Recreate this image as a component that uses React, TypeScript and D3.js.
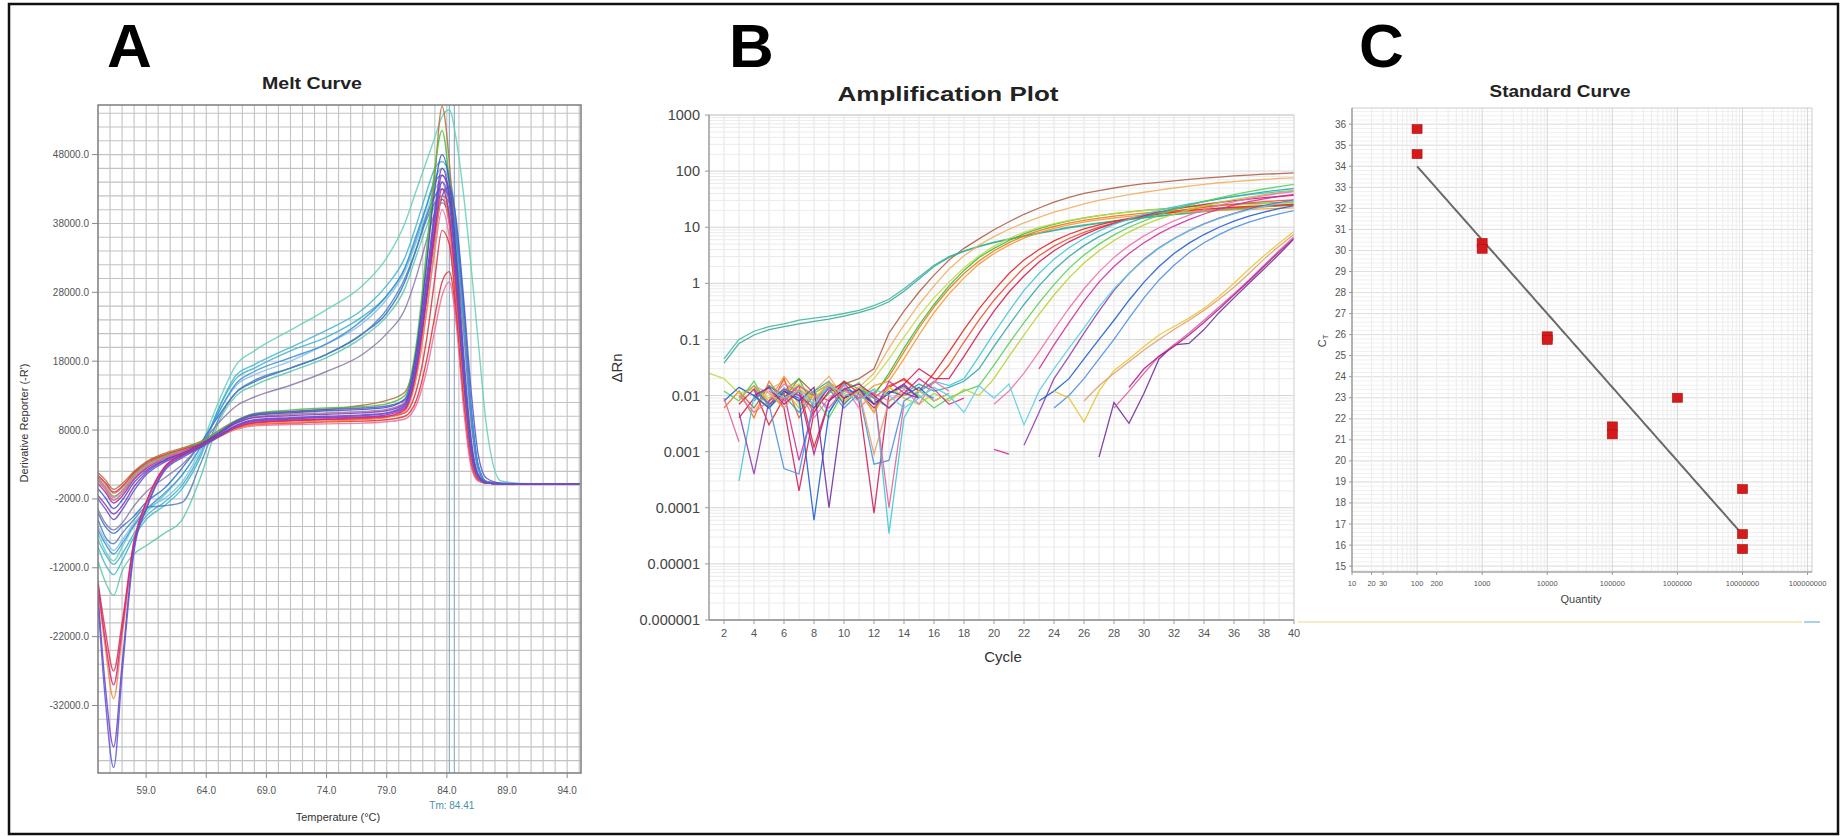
import React from 'react';
import * as d3 from 'd3';

const FONT = '"Liberation Sans", Arial, Helvetica, sans-serif';
const W = 1844;
const H = 836;

// ---------- A: melt curve (derivative reporter, in thousands) ----------
const meltTemps = [55, 55.6, 56.3, 57, 58, 59, 60.5, 62, 63.5, 65, 66.5, 68, 71, 74, 77, 79, 80.5, 81.5, 82.3, 83, 83.6, 84.2, 84.8, 85.4, 86, 86.6, 87.3, 88.5, 91, 95];
const meltTicksY = [48, 38, 28, 18, 8, -2, -12, -22, -32];
const meltTicksX = [59, 64, 69, 74, 79, 84, 89, 94];
const meltTm = 84.41;

// wells that dip slightly and sit on the low plateau
const meltPlateau: number[][] = [
  [1.8, 0.8, -0.6, 0.2, 2.0, 3.4, 4.6, 5.4, 6.3, 7.9, 9.4, 10.2, 10.6, 11.0, 11.6, 12.3, 13.5, 20, 32, 45, 55, 47, 32, 17, 5.5, 1.3, 0.3, 0.2, 0.2, 0.2],
  [1.2, 0.2, -1.2, -0.4, 1.6, 3.0, 4.2, 5.0, 5.9, 7.2, 8.6, 9.2, 9.5, 9.6, 9.7, 9.9, 10.8, 16, 25, 34, 40, 36, 26, 14, 4.5, 1.1, 0.3, 0.2, 0.2, 0.2],
  [0.6, -0.6, -2.2, -1.2, 1.0, 2.6, 4.0, 4.9, 6.0, 7.6, 9.0, 9.9, 10.3, 10.5, 10.7, 11.0, 12.0, 18, 28, 38, 44, 39, 28, 15, 5, 1.2, 0.3, 0.2, 0.2, 0.2],
  [0.2, -1.0, -2.6, -1.6, 0.8, 2.4, 3.8, 4.8, 5.8, 7.2, 8.6, 9.3, 9.6, 9.8, 9.9, 10.2, 11.2, 17, 27, 37, 41.5, 38, 27, 14, 4.6, 1.1, 0.3, 0.2, 0.2, 0.2],
  [1.0, -0.2, -1.6, -0.8, 1.4, 2.9, 4.2, 5.2, 6.2, 7.8, 9.4, 10.4, 10.9, 11.2, 11.4, 11.8, 13.0, 21, 34, 46, 51.5, 44, 30, 15, 5, 1.2, 0.3, 0.2, 0.2, 0.2],
  [-0.5, -1.8, -3.4, -2.2, 0.4, 2.1, 3.6, 4.7, 5.9, 7.5, 9.2, 10.1, 10.5, 10.8, 11.0, 11.3, 12.5, 20, 32, 43, 48, 44, 33, 19, 7, 1.6, 0.4, 0.2, 0.2, 0.2],
  [1.4, 0.4, -1.0, -0.2, 1.8, 3.2, 4.4, 5.2, 6.0, 7.2, 8.3, 8.8, 9.0, 9.2, 9.3, 9.5, 10.0, 12.5, 18, 24.5, 29.5, 31, 24, 12, 3.2, 0.7, 0.3, 0.2, 0.2, 0.2],
  [0.9, -0.3, -1.8, -0.9, 1.2, 2.7, 3.9, 4.8, 5.7, 7.0, 8.1, 8.6, 8.8, 8.9, 9.0, 9.2, 9.6, 11.8, 16.5, 22.5, 27.5, 29.5, 23, 11, 2.8, 0.6, 0.3, 0.2, 0.2, 0.2],
  [-1.5, -2.8, -4.2, -3.0, -0.2, 1.8, 3.5, 4.6, 5.8, 7.4, 9.0, 9.8, 10.1, 10.3, 10.5, 10.8, 11.8, 18.5, 29, 39, 45, 42, 31, 17, 6, 1.4, 0.3, 0.2, 0.2, 0.2],
  [-2.0, -3.4, -5.0, -3.6, -0.8, 1.5, 3.3, 4.5, 5.9, 7.6, 9.3, 10.3, 10.7, 11.0, 11.2, 11.5, 12.3, 18, 27, 36, 42, 43.3, 38, 27, 14, 4.5, 1, 0.3, 0.2, 0.2],
];
const meltPlateauColors = ['#b0703a', '#e874b0', '#a07888', '#c0209a', '#44c23a', '#3456c8', '#de3030', '#ee6aa0', '#8a30b8', '#5a4fd0'];

// wells with a deep low-temperature trough
const meltDeep: number[][] = [
  [-14, -21, -27, -20, -8, -2.5, 2.6, 4.4, 5.6, 7.0, 8.4, 9.0, 9.3, 9.5, 9.6, 9.9, 10.5, 14, 21, 30, 37, 35, 25, 13, 4, 0.9, 0.3, 0.2, 0.2, 0.2],
  [-15, -23.5, -31, -22, -8.5, -2.8, 2.4, 4.3, 5.5, 6.9, 8.2, 8.8, 9.1, 9.3, 9.5, 9.8, 10.8, 16, 25, 35, 42, 38, 27, 14, 4.5, 1.0, 0.3, 0.2, 0.2, 0.2],
  [-14.5, -22.5, -29, -21, -8.2, -2.6, 2.5, 4.4, 5.6, 7.0, 8.4, 9.1, 9.4, 9.6, 9.8, 10.0, 11.0, 17, 27, 37, 43, 39, 28, 15, 4.8, 1.1, 0.3, 0.2, 0.2, 0.2],
  [-16, -29, -38, -26, -9, -3.4, 2.2, 4.2, 5.5, 7.1, 8.7, 9.5, 9.8, 10.0, 10.2, 10.5, 11.6, 19, 30, 40, 46, 42, 30, 16, 5.5, 1.3, 0.3, 0.2, 0.2, 0.2],
  [-17, -31, -41, -27.5, -9.5, -3.6, 2.0, 4.0, 5.4, 7.0, 8.6, 9.4, 9.7, 9.9, 10.1, 10.4, 11.4, 18, 29, 39, 44, 41, 30, 16, 5.2, 1.2, 0.3, 0.2, 0.2, 0.2],
];
const meltDeepColors = ['#e03040', '#f08a30', '#cc2090', '#7a3cc0', '#5858d8'];

// wells with the raised shoulder before the main peak
const meltUpper: number[][] = [
  [-7, -9.5, -11, -9, -6, -4, -1.5, 1.5, 5.5, 12, 17.5, 19.5, 22.5, 25.5, 29, 33, 38, 43, 47, 50.5, 53.5, 54.5, 50, 42, 32, 21, 8.5, 0.6, 0.2, 0.2],
  [-9, -11.5, -13, -11, -7.5, -5, -3, -0.5, 4, 11, 16, 17.5, 20, 22.5, 25.5, 29, 33, 38, 42.5, 46, 47, 45, 38, 26, 12, 3, 0.5, 0.2, 0.2, 0.2],
  [-8, -10, -11.5, -10, -7, -4.5, -2.5, 0, 4.5, 11, 15.5, 17, 19.5, 21.5, 24.5, 27.5, 31.5, 36, 40.5, 44.5, 46, 44, 37, 25, 11, 2.8, 0.5, 0.2, 0.2, 0.2],
  [-6, -8, -9.5, -8, -5.5, -3.5, -2, 0.5, 5, 10.5, 14.5, 16, 18, 20.5, 23.5, 27, 31, 35.5, 39.5, 43, 44, 42, 35, 24, 10.5, 2.6, 0.5, 0.2, 0.2, 0.2],
  [-4, -6, -7, -6, -4.5, -2.5, -0.5, 2.5, 6, 10, 13.5, 15, 17, 19, 22, 25, 29.5, 34.5, 39, 42, 43, 42, 36, 25, 11, 2.8, 0.5, 0.2, 0.2, 0.2],
  [-5, -7.5, -8.5, -7, -5, -3.2, -3.0, -2.5, 3, 9.5, 13.5, 15.2, 17, 19, 22, 25.5, 30, 34.5, 38.5, 41, 42, 41, 35, 24, 10.5, 2.6, 0.5, 0.2, 0.2, 0.2],
  [-11, -14, -16, -12.5, -10, -8.8, -7, -5, 1, 9, 13, 14.5, 16.5, 18.5, 21.5, 24.5, 28.5, 33.5, 37.5, 40.5, 41.5, 40, 34, 23, 10, 2.4, 0.5, 0.2, 0.2, 0.2],
  [-3.5, -5.5, -6.5, -5.5, -3, -1, 1, 3, 5.8, 9, 11.5, 12.8, 14.5, 16.5, 19, 22, 25.5, 30.5, 35.5, 39.5, 41, 39, 33, 22, 9.5, 2.3, 0.5, 0.2, 0.2, 0.2],
  [-6.5, -8.5, -10, -8.5, -5.8, -3.6, -1.2, 1.5, 5.5, 10.5, 14.8, 16.5, 18.5, 20.5, 24, 27.5, 31.5, 36.5, 40.5, 44, 45, 43, 36, 25, 11, 2.7, 0.5, 0.2, 0.2, 0.2],
];
const meltUpperColors = ['#62d0b8', '#3fb6d0', '#40b0c8', '#7ec0e8', '#2f6fd0', '#4a80b8', '#58c8a8', '#8a78a8', '#3a90d8'];

// ---------- B: amplification plot (delta Rn per cycle) ----------
const ampTicksY = [1000, 100, 10, 1, 0.1, 0.01, 0.001, 0.0001, 0.00001, 0.000001];
const ampTicksX = d3.range(2, 41, 2);
const ampStart = [3, 2, 2, 2, 3, 4, 1, 3, 3, 4, 3, 3, 4, 2, 5, 3, 4, 3, 2, 4, 5, 3, 6, 2, 4, 5];
const ampColors = ['#b0604a', '#40b8a0', '#3aa898', '#f07818', '#38c038', '#f59a30', '#c8d848', '#f0b060', '#e02828', '#f05030', '#d0205a', '#40c8d8', '#30a8a8', '#58d058', '#b8d030', '#f070b0', '#d030a0', '#9040b0', '#2060d0', '#5090e0', '#e8c838', '#e0a070', '#7030a0', '#e060a0', '#b02090', '#60d0e0'];
const N = null;
const ampValues: (number | null)[][] = [
  [.012, .006, .015, .009, .02, .011, .008, .016, .02, .03, .13, .32, .7, 1.4, 2.6, 4.2, 6.2, 9, 12.5, 17, 22, 28, 34, 40, 45, 50, 55, 60, 63, 67, 71, 75, 78, 82, 85, 88, 90, 93],
  [.045, .1, .14, .17, .19, .22, .24, .26, .29, .33, .4, .52, .8, 1.3, 2.1, 3, 3.8, 4.6, 5.4, 6.2, 7, 7.9, 8.9, 10, 11, 12, 13, 14, 15, 16, 17, 18, 19.5, 20.5, 21.5, 22.5, 23.5, 24.5, 25.5],
  [.038, .085, .12, .15, .17, .19, .21, .23, .26, .3, .36, .47, .72, 1.2, 2, 2.9, 3.7, 4.5, 5.3, 6.1, 6.9, 7.8, 8.7, 9.7, 10.7, 11.7, 12.7, 13.7, 14.7, 15.7, 16.7, 17.7, 19, 20, 21, 22, 23, 24, 25],
  [.006, .012, .004, .018, .008, .013, .005, .016, .009, .014, .011, .022, .06, .16, .38, .8, 1.5, 2.5, 3.8, 5.3, 7, 8.7, 10.3, 11.8, 13.2, 14.5, 15.7, 16.8, 17.8, 18.7, 19.5, 20.3, 21, 21.7, 22.3, 22.9, 23.5, 24, 24.5],
  [.009, .015, .007, .012, .02, .006, .011, .018, .013, .01, .025, .07, .18, .42, .9, 1.7, 2.9, 4.2, 5.8, 7.6, 9.4, 11.2, 13, 14.6, 16.1, 17.5, 18.8, 20, 21.1, 22.1, 23, 23.9, 24.7, 25.5, 26.2, 26.9, 27.5, 28.1],
  [.014, .008, .022, .01, .007, .017, .012, .009, .015, .018, .045, .12, .3, .65, 1.25, 2.2, 3.4, 4.8, 6.4, 8, 9.5, 11, 12.3, 13.5, 14.6, 15.6, 16.5, 17.3, 18, 18.7, 19.3, 19.9, 20.4, 20.9, 21.3, 21.7, 22.1],
  [.025, .02, .011, .013, .009, .012, .016, .01, .013, .008, .012, .02, .045, .11, .26, .55, 1.05, 1.9, 3.1, 4.6, 6.3, 8.1, 9.9, 11.6, 13.2, 14.7, 16.1, 17.4, 18.6, 19.7, 20.7, 21.6, 22.5, 23.3, 24, 24.7, 25.3, 25.9, 26.4, 26.9],
  [.01, .005, .013, .018, .007, .012, .022, .009, .014, .025, .07, .18, .42, .9, 1.8, 3.1, 4.8, 6.8, 9.2, 12, 15, 18.5, 22, 26, 30, 34, 38, 42, 46, 50, 54, 58, 62, 65, 68, 71, 74, 76],
  [.007, .013, .003, .009, .015, .0012, .008, .018, .011, .006, .014, .02, .012, .025, .06, .15, .35, .75, 1.5, 2.6, 4, 5.7, 7.5, 9.3, 11, 12.7, 14.3, 15.8, 17.2, 18.5, 19.7, 20.8, 21.8, 22.7, 23.5, 24.2, 24.8, 25.4],
  [.01, .006, .02, .004, .011, .016, .007, .013, .009, .015, .019, .012, .017, .035, .09, .22, .5, 1, 1.9, 3.1, 4.6, 6.3, 8.1, 10, 11.9, 13.8, 15.7, 17.5, 19.3, 21, 22.7, 24.3, 25.8, 27.2, 28.5, 29.7, 30.8],
  [.004, .009, .014, .006, .0002, .005, .012, .017, .008, .00008, .011, .016, .03, .02, .02, .05, .13, .32, .7, 1.35, 2.4, 3.8, 5.5, 7.4, 9.5, 11.7, 14, 16.3, 18.6, 20.9, 23.2, 25.4, 27.6, 29.7, 31.7, 33.6, 35.4, 37],
  [.0003, .01, .006, .014, .008, .012, .005, .016, .009, .013, .000035, .004, .012, .018, .015, .02, .05, .13, .32, .75, 1.5, 2.7, 4.3, 6.3, 8.6, 11.2, 14, 17, 20, 23, 26, 29, 32, 35, 38, 40.5, 43, 45],
  [.008, .015, .01, .005, .012, .018, .007, .013, .009, .006, .011, .016, .012, .014, .018, .03, .075, .18, .42, .9, 1.75, 3, 4.7, 6.8, 9.2, 12, 15, 18.2, 21.5, 25, 28.5, 32, 35.5, 39, 42.5, 46, 49],
  [.012, .008, .018, .006, .011, .015, .009, .004, .012, .017, .007, .011, .014, .01, .006, .009, .012, .015, .035, .085, .2, .45, .95, 1.85, 3.2, 5, 7.3, 10, 13, 16.5, 20.5, 24.5, 29, 33.5, 38, 43, 48, 53, 58],
  [.009, .013, .006, .011, .016, .008, .012, .005, .014, .009, .007, .011, .008, .013, .01, .02, .05, .12, .28, .62, 1.25, 2.3, 3.8, 5.8, 8.2, 11, 14, 17.2, 20.5, 24, 27.5, 31, 34.5, 38, 41.5, 45],
  [.01, .005, .008, .016, .012, .004, .009, .015, .006, .011, .008, .013, .007, .018, .012, N, N, .007, .012, .025, .06, .15, .36, .8, 1.6, 2.9, 4.7, 7, 9.8, 13, 16.5, 20.5, 24.5, 28.5, 32.5, 36.5, 40, 43],
  [.013, .007, .011, .0007, .006, .014, .009, .012, .005, .018, .011, .02, .013, .007, .009, N, .0011, .0009, N, .03, .08, .2, .48, 1.05, 2, 3.4, 5.3, 7.7, 10.5, 13.7, 17.2, 21, 24.8, 28.5, 32, 35.3, 38.5],
  [.005, .0004, .008, .013, .01, .006, .015, .009, .012, .007, .011, .016, .009, N, N, N, N, N, N, .0013, .005, .02, .05, .13, .32, .75, 1.5, 2.7, 4.3, 6.3, 8.7, 11.5, 14.5, 17.7, 21, 24.3, 27.5, 30.5],
  [.008, .014, .01, .006, .012, .009, .00006, .005, .013, .011, .007, .012, .01, .014, .008, .011, N, N, N, N, N, .008, .012, .02, .045, .1, .22, .5, 1.05, 2, 3.4, 5.2, 7.4, 10, 12.8, 15.7, 18.6, 21.5, 24.3],
  [.012, .007, .0005, .0004, .009, .013, .006, .011, .0006, .0007, .008, .012, .009, N, N, N, N, N, N, N, .006, .01, .02, .045, .1, .24, .55, 1.15, 2.1, 3.5, 5.3, 7.4, 9.8, 12.3, 14.8, 17.3, 19.7],
  [.011, .007, .013, .009, .016, .008, .012, .005, .014, .01, .012, .008, .011, N, N, N, N, N, N, .012, .009, .0034, .012, .028, .045, .075, .12, .17, .24, .36, .58, 1, 1.8, 3.1, 5.2, 8.4],
  [.009, .015, .011, .006, .013, .008, .017, .01, .012, .0009, .008, .011, N, N, N, N, N, N, N, N, N, N, N, .008, .015, .025, .04, .065, .1, .15, .22, .33, .52, .85, 1.5, 2.7, 4.6, 7.5],
  [.012, .008, .014, .0001, .009, .013, .007, .011, .015, .009, N, N, N, N, N, N, N, N, N, N, N, .0008, .0075, .0032, .011, .045, .08, .085, .15, .3, .55, 1, 1.8, 3.3, 6.2],
  [.009, .0015, N, .012, .008, .015, .01, .006, .013, .009, .011, .0001, .007, N, N, N, N, N, N, N, N, N, N, N, N, N, .006, .012, .025, .05, .08, .13, .22, .38, .65, 1.15, 2.1, 3.8, 6.8],
  [.01, .014, .007, .012, .0009, .008, .013, .016, .01, .006, .011, .009, N, N, N, N, N, N, N, N, N, N, N, N, N, .014, .03, .05, .075, .12, .2, .35, .62, 1.1, 2, 3.6, 6.3],
  [.013, .009, .012, .007, .015, .011, .008, .013, .01, .006, .009, .014, .01, .005, .015, .009, .016, .003, .012, .03, .07, .16, .38, .8, 1.5, 2.6, 4.2, 6.2, 8.6, 11.3, 14.2, 17.3, 20.4, 23.5, 26.5, 29.5],
];

// ---------- C: standard curve ----------
const stdQuantity = [100, 100, 1000, 1000, 10000, 10000, 100000, 100000, 1000000, 10000000, 10000000, 10000000];
const stdCt = [35.77, 34.58, 30.36, 30.08, 25.92, 25.75, 21.64, 21.26, 23.0, 18.66, 16.52, 15.81];
const stdSlope = -3.5;
const stdIntercept = 41.0;
const stdFitRange = [100, 1.25e7];
const stdTicksY = d3.range(15, 37);
const stdTicksX = [10, 20, 30, 100, 200, 1000, 10000, 100000, 1000000, 10000000, 100000000];

// ---------- layout ----------
const PA = { left: 98, right: 581, top: 105, bottom: 773 };
const PB = { left: 709, right: 1294, top: 115, bottom: 620 };
const PC = { left: 1352, right: 1812, top: 108, bottom: 572 };

const xA = d3.scaleLinear().domain([55, 95.15]).range([PA.left, PA.right]);
const yA = d3.scaleLinear().domain([-41.8, 55.2]).range([PA.bottom, PA.top]);
const xB = d3.scaleLinear().domain([1, 40]).range([PB.left, PB.right]);
const yB = d3.scaleLog().domain([1e-6, 1e3]).range([PB.bottom, PB.top]);
const xC = d3.scaleLog().domain([10, 1.17e8]).range([PC.left, PC.right]);
const yC = d3.scaleLinear().domain([14.72, 36.77]).range([PC.bottom, PC.top]);

const meltLine = d3
  .line<number>()
  .x((_, i) => xA(meltTemps[i]))
  .y((d) => yA(d))
  .curve(d3.curveMonotoneX);

const ampLine = d3
  .line<[number, number | null]>()
  .defined((d) => d[1] != null && (d[1] as number) > 0)
  .x((d) => xB(d[0]))
  .y((d) => yB(d[1] as number));

const fitLine = d3
  .line<number>()
  .x((q) => xC(q))
  .y((q) => yC(stdIntercept + stdSlope * Math.log10(q)));

function fmtAmp(v: number) {
  return v >= 1 ? String(v) : v.toFixed(Math.round(-Math.log10(v)));
}

function MeltPanel() {
  const gridX = d3.range(56, 96);
  const gridY = d3.range(-40, 56, 2);
  const groups: [number[][], string[]][] = [
    [meltUpper, meltUpperColors],
    [meltPlateau, meltPlateauColors],
    [meltDeep, meltDeepColors],
  ];
  return (
    <g>
      <text x={107} y={67} fontFamily={FONT} fontWeight="bold" fontSize={62}>A</text>
      <text x={312} y={89} textAnchor="middle" fontFamily={FONT} fontWeight="bold" fontSize={17} textLength={100} lengthAdjust="spacingAndGlyphs" fill="#222">Melt Curve</text>
      <rect x={PA.left} y={PA.top} width={PA.right - PA.left} height={PA.bottom - PA.top} fill="#fff" />
      {gridX.map((t) => (
        <line key={'gx' + t} x1={xA(t)} x2={xA(t)} y1={PA.top} y2={PA.bottom} stroke="#c2c2c2" strokeWidth={1.1} />
      ))}
      {gridY.map((v) => (
        <line key={'gy' + v} x1={PA.left} x2={PA.right} y1={yA(v)} y2={yA(v)} stroke="#c2c2c2" strokeWidth={1.1} />
      ))}
      <line x1={xA(meltTm) - 2.5} x2={xA(meltTm) - 2.5} y1={PA.top} y2={PA.bottom} stroke="#7f9fbf" strokeWidth={1} />
      <line x1={xA(meltTm) + 2.5} x2={xA(meltTm) + 2.5} y1={PA.top} y2={PA.bottom} stroke="#7f9fbf" strokeWidth={1} />
      <g clipPath="url(#clipA)">
        {groups.map(([rows, cols], gi) =>
          rows.map((r, i) => (
            <path key={gi + '-' + i} d={meltLine(r) || ''} fill="none" stroke={cols[i % cols.length]} strokeWidth={1.4} strokeOpacity={0.85} />
          ))
        )}
      </g>
      <rect x={PA.left} y={PA.top} width={PA.right - PA.left} height={PA.bottom - PA.top} fill="none" stroke="#7c7c7c" strokeWidth={1.5} />
      {meltTicksY.map((v) => (
        <g key={'ty' + v}>
          <line x1={PA.left - 6} x2={PA.left} y1={yA(v)} y2={yA(v)} stroke="#888" />
          <text x={PA.left - 9} y={yA(v)} dy="0.35em" textAnchor="end" fontFamily={FONT} fontSize={10} fill="#555">
            {(v * 1000).toFixed(1)}
          </text>
        </g>
      ))}
      {meltTicksX.map((t) => (
        <g key={'tx' + t}>
          <line x1={xA(t)} x2={xA(t)} y1={PA.bottom} y2={PA.bottom + 5} stroke="#888" />
          <text x={xA(t)} y={790} dy="0.35em" textAnchor="middle" fontFamily={FONT} fontSize={10} fill="#555">
            {t.toFixed(1)}
          </text>
        </g>
      ))}
      <text x={xA(meltTm)} y={805} dy="0.35em" textAnchor="middle" fontFamily={FONT} fontSize={10} fill="#4a90a8">
        Tm: {meltTm}
      </text>
      <text x={338} y={817} dy="0.35em" textAnchor="middle" fontFamily={FONT} fontSize={11} fill="#333">
        Temperature (°C)
      </text>
      <text transform="translate(24,423) rotate(-90)" dy="0.35em" textAnchor="middle" fontFamily={FONT} fontSize={11} fill="#333">
        Derivative Reporter (-R')
      </text>
    </g>
  );
}

function AmpPanel() {
  const gridX = d3.range(2, 40);
  const minor: number[] = [];
  for (let e = -6; e < 3; e++) for (let k = 2; k <= 9; k++) minor.push(k * Math.pow(10, e));
  return (
    <g>
      <text x={729} y={67} fontFamily={FONT} fontWeight="bold" fontSize={62}>B</text>
      <text x={948} y={101} textAnchor="middle" fontFamily={FONT} fontWeight="bold" fontSize={21} textLength={221} lengthAdjust="spacingAndGlyphs" fill="#222">Amplification Plot</text>
      {gridX.map((c) => (
        <line key={'bx' + c} x1={xB(c)} x2={xB(c)} y1={PB.top} y2={PB.bottom} stroke="#e4e4e4" strokeWidth={1} />
      ))}
      {minor.map((v, i) => (
        <line key={'bm' + i} x1={PB.left} x2={PB.right} y1={yB(v)} y2={yB(v)} stroke="#ebebeb" strokeWidth={1} />
      ))}
      {ampTicksY.map((v) => (
        <line key={'bd' + v} x1={PB.left} x2={PB.right} y1={yB(v)} y2={yB(v)} stroke="#d4d4d4" strokeWidth={1} />
      ))}
      <g clipPath="url(#clipB)">
        {ampValues.map((vals, i) => {
          const pts: [number, number | null][] = vals.map((v, j) => [ampStart[i] + j, v]);
          return <path key={'amp' + i} d={ampLine(pts) || ''} fill="none" stroke={ampColors[i]} strokeWidth={1.3} strokeOpacity={0.9} />;
        })}
      </g>
      <line x1={PB.left} x2={PB.right} y1={PB.top} y2={PB.top} stroke="#cfcfcf" />
      <line x1={PB.right} x2={PB.right} y1={PB.top} y2={PB.bottom} stroke="#cfcfcf" />
      <line x1={PB.left} x2={PB.left} y1={PB.top} y2={PB.bottom} stroke="#8c8c8c" strokeWidth={1.3} />
      <line x1={PB.left} x2={PB.right} y1={PB.bottom} y2={PB.bottom} stroke="#8c8c8c" strokeWidth={1.3} />
      {ampTicksY.map((v) => (
        <g key={'bty' + v}>
          <line x1={PB.left - 4} x2={PB.left} y1={yB(v)} y2={yB(v)} stroke="#999" />
          <text x={700} y={yB(v)} dy="0.35em" textAnchor="end" fontFamily={FONT} fontSize={14.5} fill="#444">
            {fmtAmp(v)}
          </text>
        </g>
      ))}
      {ampTicksX.map((c) => (
        <g key={'btx' + c}>
          <line x1={xB(c)} x2={xB(c)} y1={PB.bottom} y2={PB.bottom + 4} stroke="#999" />
          <text x={xB(c)} y={633} dy="0.35em" textAnchor="middle" fontFamily={FONT} fontSize={11} fill="#555">
            {c}
          </text>
        </g>
      ))}
      <text x={1003} y={657} dy="0.35em" textAnchor="middle" fontFamily={FONT} fontSize={15} fill="#333">Cycle</text>
      <text transform="translate(617,368) rotate(-90)" dy="0.35em" textAnchor="middle" fontFamily={FONT} fontSize={15} fill="#333">ΔRn</text>
    </g>
  );
}

function StdPanel() {
  const minorX: number[] = [];
  for (let e = 1; e <= 8; e++) for (let k = 2; k <= 9; k++) {
    const q = k * Math.pow(10, e);
    if (q < 1.17e8) minorX.push(q);
  }
  const decades = d3.range(2, 9).map((e) => Math.pow(10, e));
  const minorY = d3.range(14.8, 36.7, 0.2);
  const fitPts = d3.range(Math.log10(stdFitRange[0]), Math.log10(stdFitRange[1]) + 1e-9, 0.05).map((e) => Math.pow(10, e));
  return (
    <g>
      <text x={1359} y={67} fontFamily={FONT} fontWeight="bold" fontSize={62}>C</text>
      <text x={1560} y={97} textAnchor="middle" fontFamily={FONT} fontWeight="bold" fontSize={16} textLength={141} lengthAdjust="spacingAndGlyphs" fill="#222">Standard Curve</text>
      {minorY.map((v, i) => (
        <line key={'cmy' + i} x1={PC.left} x2={PC.right} y1={yC(v)} y2={yC(v)} stroke="#f0f0f0" />
      ))}
      {stdTicksY.map((v) => (
        <line key={'cgy' + v} x1={PC.left} x2={PC.right} y1={yC(v)} y2={yC(v)} stroke="#e0e0e0" />
      ))}
      {minorX.map((q, i) => (
        <line key={'cmx' + i} x1={xC(q)} x2={xC(q)} y1={PC.top} y2={PC.bottom} stroke="#ececec" />
      ))}
      {decades.map((q) => (
        <line key={'cdx' + q} x1={xC(q)} x2={xC(q)} y1={PC.top} y2={PC.bottom} stroke="#d6d6d6" />
      ))}
      <rect x={PC.left} y={PC.top} width={PC.right - PC.left} height={PC.bottom - PC.top} fill="none" stroke="#cdcdcd" />
      <line x1={PC.left} x2={PC.left} y1={PC.top} y2={PC.bottom} stroke="#909090" strokeWidth={1.2} />
      <line x1={PC.left} x2={PC.right} y1={PC.bottom} y2={PC.bottom} stroke="#909090" strokeWidth={1.2} />
      <path d={fitLine(fitPts) || ''} fill="none" stroke="#6a6a6a" strokeWidth={2} />
      {stdQuantity.map((q, i) => (
        <rect key={'pt' + i} x={xC(q) - 5} y={yC(stdCt[i]) - 4.5} width={10} height={9} fill="#d41a1a" stroke="#a81212" strokeWidth={0.6} />
      ))}
      {stdTicksY.map((v) => (
        <g key={'cty' + v}>
          <line x1={PC.left - 3} x2={PC.left} y1={yC(v)} y2={yC(v)} stroke="#999" />
          <text x={1346} y={yC(v)} dy="0.35em" textAnchor="end" fontFamily={FONT} fontSize={10} fill="#555">{v}</text>
        </g>
      ))}
      {stdTicksX.map((q) => (
        <g key={'ctx' + q}>
          <line x1={xC(q)} x2={xC(q)} y1={PC.bottom} y2={PC.bottom + 3} stroke="#999" />
          <text x={xC(q)} y={583} dy="0.35em" textAnchor="middle" fontFamily={FONT} fontSize={7.5} fill="#555">{q}</text>
        </g>
      ))}
      <text x={1581} y={599} dy="0.35em" textAnchor="middle" fontFamily={FONT} fontSize={11} fill="#444">Quantity</text>
      <text transform="translate(1322,341) rotate(-90)" dy="0.35em" textAnchor="middle" fontFamily={FONT} fontSize={11} fill="#444">
        C<tspan fontSize={7.5} dy={2}>T</tspan>
      </text>
      <line x1={1298} x2={1802} y1={622} y2={622} stroke="#f7ebc6" strokeWidth={2} />
      <line x1={1804} x2={1820} y1={622} y2={622} stroke="#a9d2e2" strokeWidth={2} />
    </g>
  );
}

export default function App() {
  return (
    <svg
      width={W}
      height={H}
      viewBox={`0 0 ${W} ${H}`}
      style={{ position: 'absolute', left: 0, top: 0, display: 'block', background: '#fff' }}
    >
      <defs>
        <clipPath id="clipA">
          <rect x={PA.left} y={PA.top} width={PA.right - PA.left} height={PA.bottom - PA.top} />
        </clipPath>
        <clipPath id="clipB">
          <rect x={PB.left} y={PB.top} width={PB.right - PB.left} height={PB.bottom - PB.top} />
        </clipPath>
      </defs>
      <rect x={0} y={0} width={W} height={H} fill="#fff" />
      <MeltPanel />
      <AmpPanel />
      <StdPanel />
      <rect x={9} y={4} width={1829} height={830} fill="none" stroke="#111" strokeWidth={2.5} />
    </svg>
  );
}
